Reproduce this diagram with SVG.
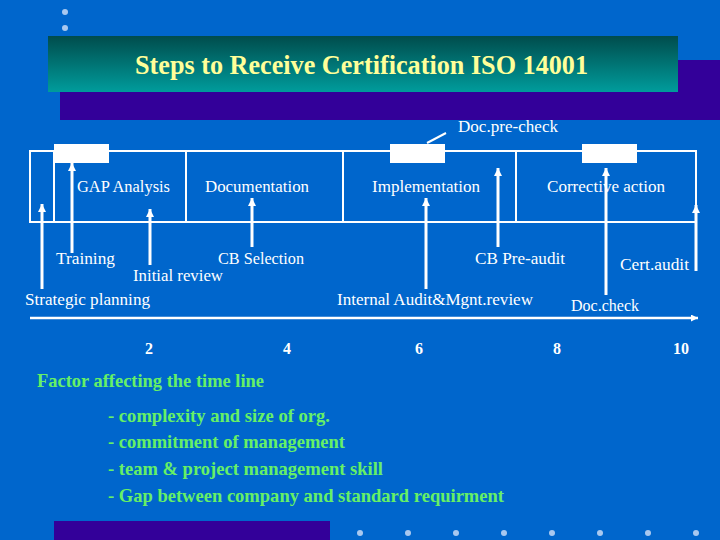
<svg xmlns="http://www.w3.org/2000/svg" width="720" height="540" viewBox="0 0 720 540">
<defs>
<linearGradient id="tg" x1="0" y1="0" x2="0" y2="1">
<stop offset="0" stop-color="#004C4C"/>
<stop offset="1" stop-color="#009C9C"/>
</linearGradient>
<marker id="ah" viewBox="0 0 10 10" refX="10" refY="5" markerWidth="8" markerHeight="8" markerUnits="userSpaceOnUse" orient="auto">
<path d="M0,0 L10,5 L0,10 z" fill="#FFFFFF"/>
</marker>
<marker id="ah2" viewBox="0 0 10 10" refX="10" refY="5" markerWidth="9" markerHeight="7" markerUnits="userSpaceOnUse" orient="auto">
<path d="M0,0 L10,5 L0,10 z" fill="#FFFFFF"/>
</marker>
</defs>
<style>
.w{fill:#FFFFFF;font-family:"Liberation Serif","Times New Roman",serif;font-size:17px}
.n{fill:#FFFFFF;font-family:"Liberation Serif","Times New Roman",serif;font-size:16px;font-weight:bold}
.g{fill:#66F066;font-family:"Liberation Serif","Times New Roman",serif;font-size:19px;font-weight:bold}
.ln{stroke:#FFFFFF;stroke-width:2;fill:none}
.ar{stroke:#FFFFFF;stroke-width:3;fill:none;marker-end:url(#ah)}
.dot{fill:#A8C8F0}
</style>
<rect x="0" y="0" width="720" height="540" fill="#0066CC"/>
<g id="decor">
<circle class="dot" cx="65" cy="12" r="3"/>
<circle class="dot" cx="65" cy="28" r="3"/>
<rect x="60" y="60" width="660" height="60" fill="#330099"/>
<rect x="54" y="521" width="276" height="19" fill="#330099"/>
<circle class="dot" cx="360" cy="533" r="3"/>
<circle class="dot" cx="408" cy="533" r="3"/>
<circle class="dot" cx="456" cy="533" r="3"/>
<circle class="dot" cx="504" cy="533" r="3"/>
<circle class="dot" cx="552" cy="533" r="3"/>
<circle class="dot" cx="600" cy="533" r="3"/>
<circle class="dot" cx="648" cy="533" r="3"/>
<circle class="dot" cx="696" cy="533" r="3"/>
</g>
<g id="title">
<rect x="48" y="36" width="630" height="56" fill="url(#tg)"/>
<text x="135" y="74" textLength="453" lengthAdjust="spacingAndGlyphs" style="fill:#FFFF99;font-family:'Liberation Serif','Times New Roman',serif;font-size:27px;font-weight:bold">Steps to Receive Certification ISO 14001</text>
</g>
<g id="phases">
<rect class="ln" x="30" y="151" width="666" height="71" stroke-width="1.5"/>
<line class="ln" stroke-width="1.5" x1="54" y1="151" x2="54" y2="222"/>
<line class="ln" stroke-width="1.5" x1="186" y1="151" x2="186" y2="222"/>
<line class="ln" stroke-width="1.5" x1="343" y1="151" x2="343" y2="222"/>
<line class="ln" stroke-width="1.5" x1="516" y1="151" x2="516" y2="222"/>
<rect x="54" y="144" width="55" height="19" fill="#FFFFFF"/>
<rect x="390" y="144" width="55" height="19" fill="#FFFFFF"/>
<rect x="582" y="144" width="55" height="19" fill="#FFFFFF"/>
<text class="w" x="77" y="192" textLength="93" lengthAdjust="spacingAndGlyphs">GAP Analysis</text>
<text class="w" x="205" y="192" textLength="104" lengthAdjust="spacingAndGlyphs">Documentation</text>
<text class="w" x="372" y="192" textLength="108" lengthAdjust="spacingAndGlyphs">Implementation</text>
<text class="w" x="547" y="192" textLength="118" lengthAdjust="spacingAndGlyphs">Corrective action</text>
</g>
<g id="connectors">
<line class="ln" stroke-width="1.5" x1="427" y1="143" x2="446" y2="133"/>
<line class="ar" x1="42" y1="289" x2="42" y2="204"/>
<line class="ar" x1="72" y1="253" x2="72" y2="163"/>
<line class="ar" x1="150" y1="265" x2="150" y2="209"/>
<line class="ar" x1="252" y1="247" x2="252" y2="198"/>
<line class="ar" x1="426" y1="289" x2="426" y2="198"/>
<line class="ar" x1="498" y1="247" x2="498" y2="168"/>
<line class="ar" x1="606" y1="295" x2="606" y2="168"/>
<line class="ar" x1="696" y1="271" x2="696" y2="205"/>
<line x1="30" y1="318" x2="698" y2="318" stroke="#FFFFFF" stroke-width="2.5" marker-end="url(#ah2)"/>
</g>
<g id="labels">
<text class="w" x="458" y="132" textLength="100" lengthAdjust="spacingAndGlyphs">Doc.pre-check</text>
<text class="w" x="56" y="264" textLength="59" lengthAdjust="spacingAndGlyphs">Training</text>
<text class="w" x="218" y="264" textLength="86" lengthAdjust="spacingAndGlyphs">CB Selection</text>
<text class="w" x="133" y="281" textLength="90" lengthAdjust="spacingAndGlyphs">Initial review</text>
<text class="w" x="25" y="305" textLength="125" lengthAdjust="spacingAndGlyphs">Strategic planning</text>
<text class="w" x="475" y="264" textLength="90" lengthAdjust="spacingAndGlyphs">CB Pre-audit</text>
<text class="w" x="620" y="270" textLength="69" lengthAdjust="spacingAndGlyphs">Cert.audit</text>
<text class="w" x="337" y="305" textLength="196" lengthAdjust="spacingAndGlyphs">Internal Audit&amp;Mgnt.review</text>
<text class="w" x="571" y="311" textLength="68" lengthAdjust="spacingAndGlyphs">Doc.check</text>
</g>
<g id="axis">
<text class="n" x="149" y="354" text-anchor="middle">2</text>
<text class="n" x="287" y="354" text-anchor="middle">4</text>
<text class="n" x="419" y="354" text-anchor="middle">6</text>
<text class="n" x="557" y="354" text-anchor="middle">8</text>
<text class="n" x="681" y="354" text-anchor="middle">10</text>
</g>
<g id="factors">
<text class="g" x="37" y="387" textLength="227" lengthAdjust="spacingAndGlyphs">Factor affecting the time line</text>
<text class="g" x="108" y="422" textLength="222" lengthAdjust="spacingAndGlyphs">- complexity and size of org.</text>
<text class="g" x="108" y="448" textLength="237" lengthAdjust="spacingAndGlyphs">- commitment of management</text>
<text class="g" x="108" y="475" textLength="275" lengthAdjust="spacingAndGlyphs">- team &amp; project management skill</text>
<text class="g" x="108" y="502" textLength="396" lengthAdjust="spacingAndGlyphs">- Gap between company and standard requirment</text>
</g>
</svg>
